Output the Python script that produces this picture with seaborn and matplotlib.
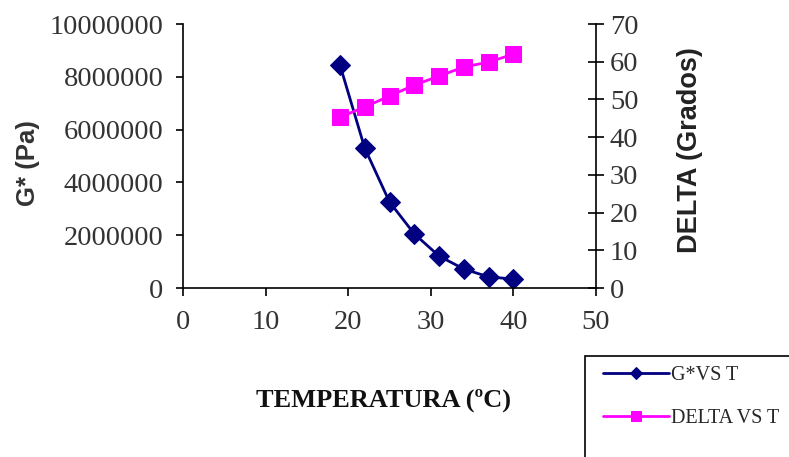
import matplotlib
matplotlib.use("Agg")
import matplotlib.pyplot as plt
import seaborn as sns
import pandas as pd
from matplotlib.patches import Rectangle

temperature = [19, 22, 25, 28, 31, 34, 37, 40]
g_star = [8450000, 5300000, 3260000, 2050000, 1210000, 720000, 420000, 340000]
delta = [45.3, 48.0, 50.9, 53.8, 56.2, 58.6, 59.9, 62.0]
x_ticks = [0, 10, 20, 30, 40, 50]
left_ticks = [0, 2000000, 4000000, 6000000, 8000000, 10000000]
right_ticks = [0, 10, 20, 30, 40, 50, 60, 70]

df = pd.DataFrame({"T": temperature, "G": g_star, "D": delta})

sns.set_style("white")
serif = ["Liberation Serif", "DejaVu Serif"]
sans = ["Liberation Sans", "DejaVu Sans"]
plt.rcParams["font.family"] = serif

fig = plt.figure(figsize=(7.89, 4.57), dpi=100)
ax = fig.add_axes([183/789, 1-288/457, 413/789, 264/457])
ax2 = ax.twinx()

navy = "#000080"
magenta = "#FF00FF"

sns.lineplot(data=df, x="T", y="G", ax=ax, color=navy, marker="D", markersize=10,
             markeredgecolor=navy, linewidth=2.0, label="G*VS T", legend=False)
sns.lineplot(data=df, x="T", y="D", ax=ax2, color=magenta, marker="s", markersize=12,
             markeredgecolor=magenta, linewidth=2.0, label="DELTA VS T", legend=False)

ax.set_xlim(0, 50)
ax.set_ylim(0, 10000000)
ax2.set_ylim(0, 70)
ax.set_xticks(x_ticks)
ax.set_yticks(left_ticks)
ax2.set_yticks(right_ticks)
ax.set_yticklabels([str(v) for v in left_ticks])
ax.set_xticklabels([str(v) for v in x_ticks])
ax2.set_yticklabels([str(v) for v in right_ticks])

for a in (ax, ax2):
    for s in a.spines.values():
        s.set_visible(False)
ax.spines["left"].set_visible(True)
ax.spines["bottom"].set_visible(True)
ax2.spines["right"].set_visible(True)
for s in (ax.spines["left"], ax.spines["bottom"], ax2.spines["right"]):
    s.set_color("black")
    s.set_linewidth(1.2)

ax.tick_params(axis="x", direction="out", length=6, width=1.2, pad=10,
               labelsize=20.5, colors="black", bottom=True)
ax.tick_params(axis="y", direction="out", length=5, width=1.2, pad=9,
               labelsize=20.5, colors="black", left=True)
ax2.tick_params(axis="y", direction="inout", length=12, width=1.2, pad=4,
                labelsize=20.5, colors="black", right=True)
for lab in ax.get_xticklabels() + ax.get_yticklabels() + ax2.get_yticklabels():
    lab.set_color("#333333")

ax.set_xlabel("")
ax.set_ylabel("")
ax2.set_ylabel("")
ax.grid(False)
ax2.grid(False)

fig.text(28/789, 1-163/457, "G* (Pa)", rotation=90, ha="center", va="center",
         fontsize=18.5, fontweight="bold", family=sans, color="#333333")
fig.text(690/789, 1-150/457, "DELTA (Grados)", rotation=90, ha="center", va="center",
         fontsize=19.5, fontweight="bold", family=sans, color="#222222")
fig.text(383/789, 1-400/457, "TEMPERATURA (ºC)", ha="center", va="center",
         fontsize=19, fontweight="bold", family=serif, color="#111111")

fig.patches.append(Rectangle((585/789, -0.2), 0.6, 0.2 + (457-356)/457,
                             transform=fig.transFigure, fill=False,
                             edgecolor="black", linewidth=1.2, clip_on=False))

h1, l1 = ax.get_legend_handles_labels()
h2, l2 = ax2.get_legend_handles_labels()
fig.legend(h1 + h2, l1 + l2, loc="upper left", bbox_to_anchor=(603/789, 1-366/457),
           frameon=False, fontsize=14.5, handlelength=3.3, handletextpad=0.1,
           labelspacing=1.2, markerscale=0.65, borderaxespad=0, borderpad=0)

fig.savefig("out.png", dpi=100)
